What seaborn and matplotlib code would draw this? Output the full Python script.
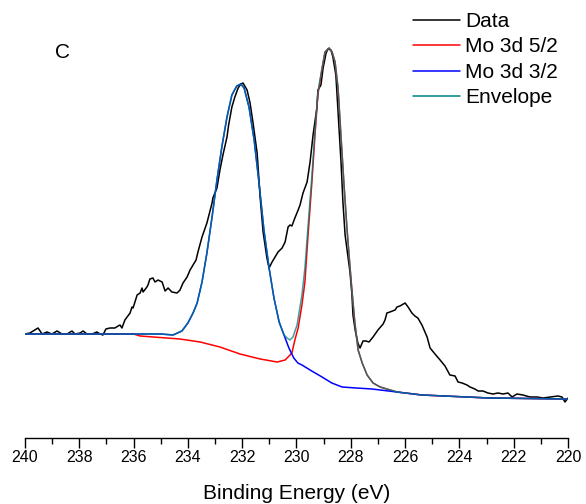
import matplotlib
matplotlib.use('Agg')
import matplotlib.pyplot as plt
import seaborn as sns
from matplotlib.ticker import MultipleLocator

# XPS Mo 3d region (arb. units)
data_be = [240.00, 239.82, 239.52, 239.37, 239.19, 239.01, 238.82, 238.64, 238.45, 238.27,
           238.16, 237.97, 237.86, 237.72, 237.53, 237.35, 237.24, 237.13, 237.02, 236.87,
           236.80, 236.69, 236.57, 236.50, 236.43, 236.32, 236.13, 236.06, 236.02, 235.87,
           235.76, 235.69, 235.65, 235.51, 235.47, 235.40, 235.29, 235.21, 235.10, 234.95,
           234.84, 234.73, 234.59, 234.40, 234.29, 234.18, 234.03, 233.92, 233.81, 233.70,
           233.63, 233.48, 233.30, 233.11, 233.08, 232.93, 232.82, 232.71, 232.56, 232.50,
           232.38, 232.27, 232.15, 232.05, 231.97, 231.82, 231.71, 231.60, 231.45, 231.34,
           231.23, 231.09, 231.01, 230.90, 230.79, 230.68, 230.53, 230.42, 230.31, 230.24,
           230.17, 230.06, 229.94, 229.87, 229.76, 229.61, 229.50, 229.39, 229.25, 229.21,
           229.10, 229.02, 228.91, 228.84, 228.73, 228.66, 228.55, 228.47, 228.36, 228.29,
           228.21, 228.03, 227.96, 227.92, 227.84, 227.74, 227.66, 227.55, 227.44, 227.33,
           227.18, 227.00, 226.81, 226.74, 226.67, 226.56, 226.37, 226.30, 226.19, 226.00,
           225.89, 225.75, 225.64, 225.53, 225.38, 225.19, 225.08, 224.90, 224.71, 224.53,
           224.35, 224.16, 224.05, 223.90, 223.72, 223.61, 223.43, 223.31, 223.13, 222.95,
           222.76, 222.58, 222.39, 222.21, 222.06, 221.88, 221.66, 221.40, 221.14, 220.92,
           220.66, 220.37, 220.22, 220.11, 220.00]
data_int = [103, 104, 109, 103, 105, 103, 106, 103, 103, 106,
            103, 104, 106, 103, 103, 105, 103, 102, 108, 109,
            109, 109, 111, 112, 109, 117, 124, 130, 129, 142,
            144, 149, 145, 150, 152, 158, 159, 155, 157, 155,
            146, 149, 145, 144, 147, 154, 160, 167, 172, 177,
            185, 200, 214, 234, 239, 249, 267, 282, 300, 312,
            330, 340, 349, 353, 354, 347, 334, 314, 284, 240,
            205, 179, 169, 175, 180, 185, 189, 195, 210, 212,
            211, 219, 227, 232, 244, 255, 275, 302, 329, 347,
            352, 369, 384, 388, 387, 380, 362, 325, 275, 235,
            202, 165, 143, 122, 107, 94, 89, 96, 96, 95,
            100, 107, 113, 117, 124, 125, 127, 130, 131, 134,
            130, 124, 121, 119, 112, 100, 89, 83, 77, 71,
            62, 61, 55, 54, 52, 50, 48, 46, 46, 44,
            43, 44, 43, 44, 40, 43, 42, 40, 40, 39,
            40, 41, 40, 35, 39]

mo52_be = [240.0, 236.0, 235.76, 234.29, 233.55, 232.82, 232.08, 231.34, 230.71, 230.42,
           230.31, 230.17, 230.06, 229.94, 229.80, 229.69, 229.58, 229.43, 229.32, 229.21,
           229.06, 228.95, 228.80, 228.69, 228.58, 228.47, 228.36, 228.25, 228.14, 228.03,
           227.96, 227.85, 227.73, 227.58, 227.40, 227.18, 226.92, 226.30, 225.38, 222.91,
           220.00]
mo52_int = [103, 103, 101, 98, 95, 90, 83, 78, 75, 77,
            80, 84, 97, 109, 132, 155, 200, 256, 302, 343,
            368, 385, 389, 385, 375, 349, 300, 252, 208, 170,
            147, 114, 87, 74, 62, 54, 50, 45, 42, 39,
            38]

mo32_be = [240.0, 238.0, 236.0, 235.0, 234.55, 234.22, 234.00, 233.81, 233.66, 233.48,
           233.30, 233.11, 232.93, 232.75, 232.56, 232.38, 232.20, 232.05, 231.93, 231.75,
           231.56, 231.38, 231.20, 231.01, 230.83, 230.64, 230.46, 230.28, 230.10, 229.95,
           229.80, 229.50, 229.06, 228.70, 228.32, 227.80, 227.22, 226.30, 225.38, 222.91,
           220.00]
mo32_int = [103, 103, 103, 103, 102, 106, 114, 124, 134, 155,
            184, 220, 257, 290, 320, 342, 351, 353, 349, 330,
            297, 254, 207, 169, 139, 115, 102, 89, 79, 74,
            72, 67, 60, 54, 50, 49, 48, 45, 42, 39,
            38]

env_be = [240.0, 238.0, 236.0, 235.0, 234.55, 234.22, 234.00, 233.81, 233.66, 233.48,
          233.30, 233.11, 232.93, 232.75, 232.56, 232.38, 232.20, 232.05, 231.93, 231.75,
          231.56, 231.38, 231.20, 231.01, 230.83, 230.64, 230.46, 230.35, 230.24, 230.13,
          229.98, 229.80, 229.69, 229.58, 229.43, 229.32, 229.21, 229.06, 228.95, 228.80,
          228.69, 228.58, 228.47, 228.36, 228.25, 228.14, 228.03, 227.96, 227.85, 227.73,
          227.58, 227.40, 227.18, 226.92, 226.30, 225.38, 222.91, 220.00]
env_int = [103, 103, 103, 103, 102, 106, 114, 124, 134, 155,
           184, 220, 257, 290, 320, 342, 351, 353, 349, 330,
           297, 254, 207, 169, 139, 115, 102, 99, 97, 100,
           112, 142, 169, 209, 262, 305, 345, 369, 385, 389,
           385, 375, 349, 300, 252, 208, 170, 147, 114, 87,
           74, 62, 54, 50, 45, 42, 39, 38]

sns.set_style('ticks')
plt.rcParams['font.family'] = ['Liberation Sans', 'DejaVu Sans']
plt.rcParams['text.color'] = 'black'
plt.rcParams['axes.labelcolor'] = 'black'
plt.rcParams['xtick.color'] = 'black'

fig = plt.figure(figsize=(5.86, 5.04), dpi=100)
ax = fig.add_axes([25 / 586, 1 - 438 / 504, 543 / 586, 428 / 504])

sns.lineplot(x=data_be, y=data_int, color='black', lw=1.1, label='Data', ax=ax)
sns.lineplot(x=mo52_be, y=mo52_int, color='#ff0000', lw=1.1, label='Mo 3d 5/2', ax=ax)
sns.lineplot(x=mo32_be, y=mo32_int, color='#0000ff', lw=1.1, label='Mo 3d 3/2', ax=ax)
sns.lineplot(x=env_be, y=env_int, color='#008080', lw=1.1, alpha=0.75, label='Envelope', ax=ax)

ax.set_xlim(240, 220)
ax.set_ylim(-1, 427)
ax.xaxis.set_major_locator(MultipleLocator(2))
ax.xaxis.set_minor_locator(MultipleLocator(1))
ax.tick_params(axis='x', which='major', direction='out', length=7, width=1,
               labelsize=11.5, pad=2, color='black', labelcolor='black')
ax.tick_params(axis='x', which='minor', direction='out', length=4, width=1, color='black')
ax.set_yticks([])
ax.set_ylabel('')
for s in ['top', 'right', 'left']:
    ax.spines[s].set_visible(False)
ax.spines['bottom'].set_color('black')
ax.spines['bottom'].set_linewidth(1)
ax.set_xlabel('Binding Energy (eV)', fontsize=15, labelpad=13, color='black')

leg = ax.legend(loc='upper left', bbox_to_anchor=(413 / 586, 1 - 12 / 504),
                bbox_transform=fig.transFigure, frameon=False, fontsize=15,
                handlelength=2.25, handletextpad=0.25, labelspacing=0.31,
                borderpad=0, borderaxespad=0)
for line in leg.get_lines():
    line.set_linewidth(1.1)
    line.set_alpha(1)
for t in leg.get_texts():
    t.set_color('black')

fig.text(62 / 586, 1 - 52 / 504, 'C', fontsize=15, ha='center', va='center', color='black')

fig.savefig('out.png', dpi=100)
